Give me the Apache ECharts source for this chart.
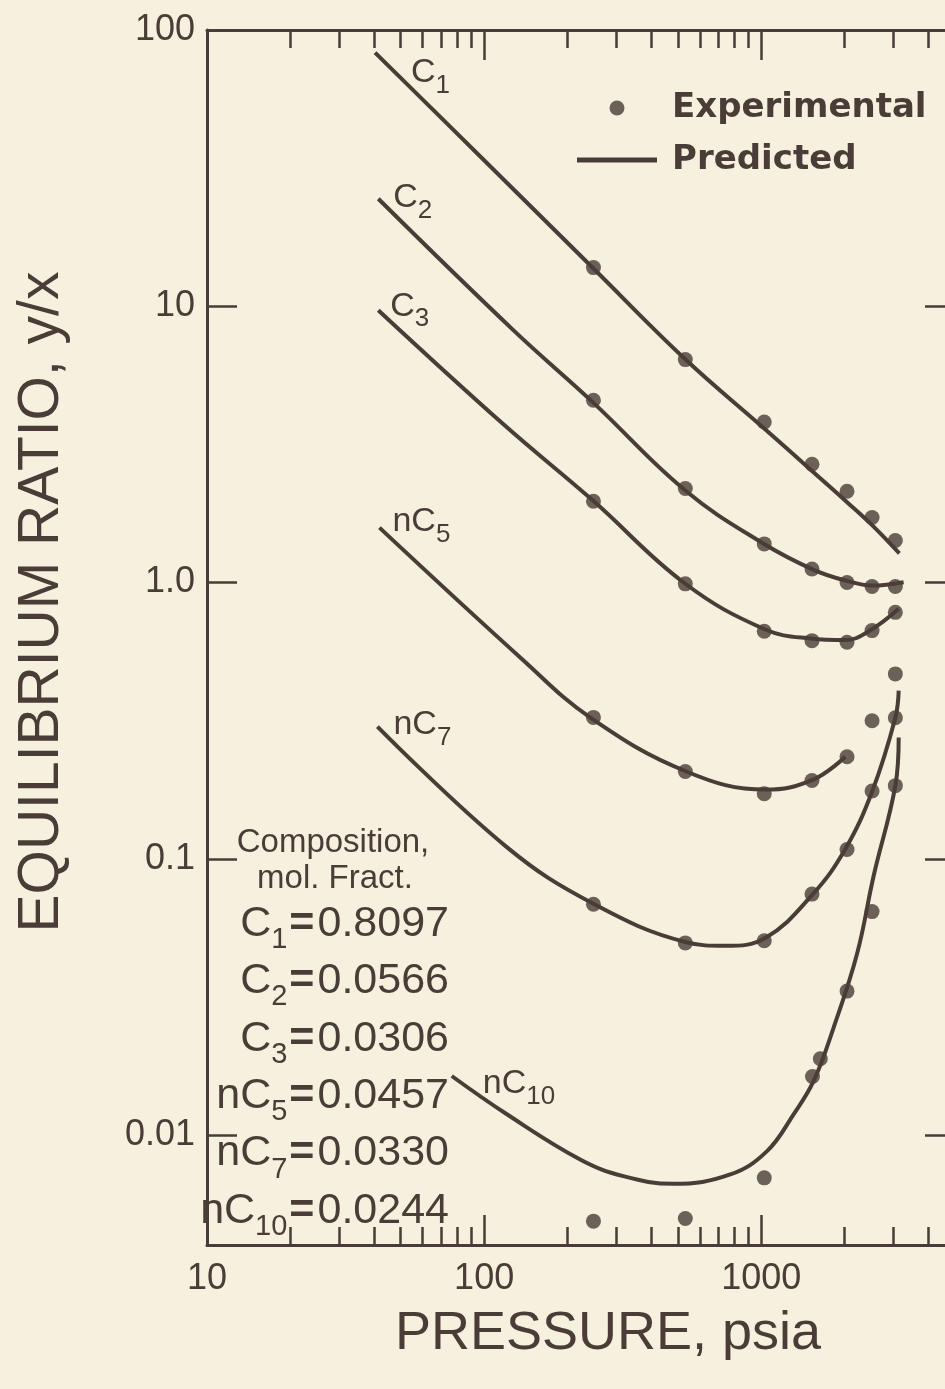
<!DOCTYPE html>
<html>
<head>
<meta charset="utf-8">
<script src="https://cdn.jsdelivr.net/npm/echarts@6/dist/echarts.min.js"></script>
<style>
  html, body { margin: 0; padding: 0; background: #f6f0df; }
  #chart { width: 945px; height: 1389px; }
</style>
</head>
<body>
<div id="chart"></div>
<script>
// experimental points (pressure, psia)
const expPressure = [248, 532, 1025, 1524, 2039, 2510, 3046];
const expC1 = [13.8, 6.41, 3.81, 2.68, 2.14, 1.72, 1.42];
const expC2 = [4.57, 2.19, 1.38, 1.12, 1.0, 0.967, 0.967];
const expC3 = [1.97, 0.989, 0.666, 0.616, 0.608, 0.67, 0.78];
const expNC5 = [0.325, 0.207, 0.172, 0.192, 0.234, 0.316, 0.467];
const expNC7 = [0.0685, 0.0496, 0.0505, 0.0745, 0.108, 0.176, 0.324];
const expNC10Pressure = [248, 532, 1025, 1530, 1633, 2039, 2510, 3046];
const expNC10 = [0.00488, 0.00499, 0.007, 0.0163, 0.0189, 0.0332, 0.0644, 0.184];

// predicted curves
const predC1Pressure = [40.4, 100.8, 247.5, 532, 1025, 1528, 2044, 2516, 3150];
const predC1 = [82.8, 33.5, 13.73, 6.43, 3.61, 2.53, 1.95, 1.61, 1.274];
const predC2Pressure = [41.5, 127.7, 247, 532, 1017, 1537, 2012, 2516, 3263];
const predC2 = [24.5, 8.18, 4.49, 2.154, 1.384, 1.114, 1.017, 0.975, 1.003];
const predC3Pressure = [41.5, 117.4, 247, 532, 1034, 1503, 2012, 2467, 3132];
const predC3 = [9.68, 3.74, 1.98, 0.99, 0.676, 0.627, 0.619, 0.67, 0.803];
const predNC5Pressure = [41.9, 136.8, 241, 536, 1040, 1532, 2010];
const predNC5 = [1.58, 0.529, 0.325, 0.207, 0.178, 0.193, 0.234];
const predNC7Pressure = [41.2, 121, 248, 532, 741, 1034, 1535, 2010, 2516, 3046, 3132];
const predNC7 = [0.301, 0.11, 0.0687, 0.05, 0.0484, 0.0517, 0.0745, 0.1085, 0.176, 0.324, 0.406];
const predNC10Pressure = [76.4, 120.8, 222, 318, 482.5, 773, 1049, 1308, 1545, 1824, 2215, 2544, 3046, 3132];
const predNC10 = [0.01636, 0.01189, 0.00816, 0.0071, 0.00666, 0.0072, 0.00875, 0.01189, 0.0157, 0.0245, 0.0452, 0.0868, 0.184, 0.275];

// composition box
const compNames = ['C', 'C', 'C', 'nC', 'nC', 'nC'];
const compSubs = ['1', '2', '3', '5', '7', '10'];
const compFractions = [0.8097, 0.0566, 0.0306, 0.0457, 0.0330, 0.0244];

// axis ticks
const xMajorTicks = [10, 100, 1000];
const xMinorTicks = [20, 30, 40, 50, 60, 70, 80, 90, 200, 300, 400, 500, 600, 700, 800, 900, 2000, 3000, 4000];
const yTicks = [10, 1, 0.1, 0.01];
const yLabels = [100, 10, 1, 0.1, 0.01];
const yLabelText = { 100: '100', 10: '10', 1: '1.0', 0.1: '0.1', 0.01: '0.01' };

const ink = '#4a3d37';
const sans = '"Liberation Sans", Arial, sans-serif';

const curves = [
  { name: 'C', sub: '1', predP: predC1Pressure, pred: predC1, expP: expPressure, exp: expC1, dx: 36, dy: 20 },
  { name: 'C', sub: '2', predP: predC2Pressure, pred: predC2, expP: expPressure, exp: expC2, dx: 15, dy: -1 },
  { name: 'C', sub: '3', predP: predC3Pressure, pred: predC3, expP: expPressure, exp: expC3, dx: 12, dy: -4 },
  { name: 'nC', sub: '5', predP: predNC5Pressure, pred: predNC5, expP: expPressure, exp: expNC5, dx: 13, dy: -6 },
  { name: 'nC', sub: '7', predP: predNC7Pressure, pred: predNC7, expP: expPressure, exp: expNC7, dx: 16, dy: -2 },
  { name: 'nC', sub: '10', predP: predNC10Pressure, pred: predNC10, expP: expNC10Pressure, exp: expNC10, dx: 31, dy: 8 }
];

const zip = (xs, ys) => xs.map((x, i) => [x, ys[i]]);

const series = [];
curves.forEach(c => {
  series.push({
    name: 'Predicted',
    type: 'line',
    data: zip(c.predP, c.pred),
    smooth: 0.4,
    symbol: 'none',
    lineStyle: { color: ink, width: 4 },
    itemStyle: { color: ink },
    z: 2
  });
  series.push({
    name: 'Experimental',
    type: 'scatter',
    data: zip(c.expP, c.exp),
    symbolSize: 15,
    itemStyle: { color: ink },
    z: 3
  });
});

const tickStyle = { color: ink, width: 2.5 };
const xBase = { type: 'log', logBase: 10, min: 10, max: 5000, splitLine: { show: false } };
const yBase = { type: 'log', logBase: 10, min: 0.004, max: 100, splitLine: { show: false } };

const chart = echarts.init(document.getElementById('chart'));

chart.setOption({
  animation: false,
  backgroundColor: '#f6f0df',
  grid: { left: 207, top: 30, right: -10, bottom: 144, outerBoundsMode: 'none', containLabel: false },
  legend: {
    orient: 'vertical',
    left: 572,
    top: 86,
    itemWidth: 80,
    itemHeight: 15,
    itemGap: 18,
    data: [
      { name: 'Experimental', icon: 'circle' },
      { name: 'Predicted', icon: 'path://M0,0H80V5H0Z' }
    ],
    textStyle: {
      color: ink,
      fontSize: 34,
      fontWeight: 'bold',
      fontFamily: '"DejaVu Sans", sans-serif',
      padding: [0, 0, 0, 10]
    }
  },
  xAxis: [
    Object.assign({}, xBase, {
      position: 'bottom',
      axisLine: { show: true, lineStyle: { color: ink, width: 3 } },
      axisTick: { inside: true, length: 30, customValues: xMajorTicks, lineStyle: tickStyle },
      axisLabel: {
        customValues: xMajorTicks, color: ink, fontSize: 36, fontFamily: sans, margin: 16,
        formatter: v => String(Math.round(v))
      }
    }),
    Object.assign({}, xBase, {
      position: 'bottom',
      axisLine: { show: false },
      axisTick: { inside: true, length: 18, customValues: xMinorTicks, lineStyle: tickStyle },
      axisLabel: { show: false }
    }),
    Object.assign({}, xBase, {
      position: 'top',
      axisLine: { show: true, lineStyle: { color: ink, width: 3 } },
      axisTick: { inside: true, length: 30, customValues: xMajorTicks, lineStyle: tickStyle },
      axisLabel: { show: false }
    }),
    Object.assign({}, xBase, {
      position: 'top',
      axisLine: { show: false },
      axisTick: { inside: true, length: 18, customValues: xMinorTicks, lineStyle: tickStyle },
      axisLabel: { show: false }
    })
  ],
  yAxis: [
    Object.assign({}, yBase, {
      position: 'left',
      axisLine: { show: true, lineStyle: { color: ink, width: 3 } },
      axisTick: { inside: true, length: 30, customValues: yTicks, lineStyle: tickStyle },
      axisLabel: {
        customValues: yLabels,
        color: ink,
        fontSize: 36,
        fontFamily: sans,
        margin: 12,
        formatter: v => yLabelText[v] !== undefined ? yLabelText[v] : String(v)
      }
    }),
    Object.assign({}, yBase, {
      position: 'right',
      axisLine: { show: true, lineStyle: { color: ink, width: 3 } },
      axisTick: { inside: true, length: 30, customValues: yTicks, lineStyle: tickStyle },
      axisLabel: { show: false }
    })
  ],
  series: series
});

// text elements: axis titles, curve labels, composition box
const graphics = [
  {
    type: 'text', x: 42, y: 602, rotation: Math.PI / 2,
    style: { text: 'EQUILIBRIUM RATIO, y/x', fill: ink, fontSize: 57, fontFamily: sans, align: 'center', verticalAlign: 'middle' }
  },
  {
    type: 'text', x: 608, y: 1334,
    style: { text: 'PRESSURE, psia', fill: ink, fontSize: 54, fontFamily: sans, align: 'center', verticalAlign: 'middle' }
  },
  {
    type: 'text', x: 333, y: 843,
    style: { text: 'Composition,', fill: ink, fontSize: 33, fontFamily: sans, align: 'center', verticalAlign: 'middle' }
  },
  {
    type: 'text', x: 335, y: 879,
    style: { text: 'mol. Fract.', fill: ink, fontSize: 33, fontFamily: sans, align: 'center', verticalAlign: 'middle' }
  }
];

compNames.forEach((n, i) => {
  graphics.push({
    type: 'text', x: 449, y: 924 + i * 57.4,
    style: {
      text: '{m|' + n + '}{s|' + compSubs[i] + '}{e|=}{m|' + compFractions[i].toFixed(4) + '}',
      align: 'right', verticalAlign: 'middle',
      rich: {
        m: { fill: ink, fontSize: 43, fontFamily: sans },
        e: { fill: ink, fontSize: 43, fontFamily: sans, fontWeight: 'bold', padding: [0, 3, 0, 2] },
        s: { fill: ink, fontSize: 29, fontFamily: sans, padding: [32, 0, 0, 0] }
      }
    }
  });
});

curves.forEach((c, i) => {
  const p = chart.convertToPixel({ seriesIndex: i * 2 }, [c.predP[0], c.pred[0]]);
  graphics.push({
    type: 'text', x: p[0] + c.dx, y: p[1] + c.dy,
    style: {
      text: '{m|' + c.name + '}{s|' + c.sub + '}',
      align: 'left', verticalAlign: 'middle',
      rich: {
        m: { fill: ink, fontSize: 34, fontFamily: sans },
        s: { fill: ink, fontSize: 26, fontFamily: sans, padding: [26, 0, 0, 0] }
      }
    }
  });
});

chart.setOption({ graphic: graphics });
</script>
</body>
</html>
